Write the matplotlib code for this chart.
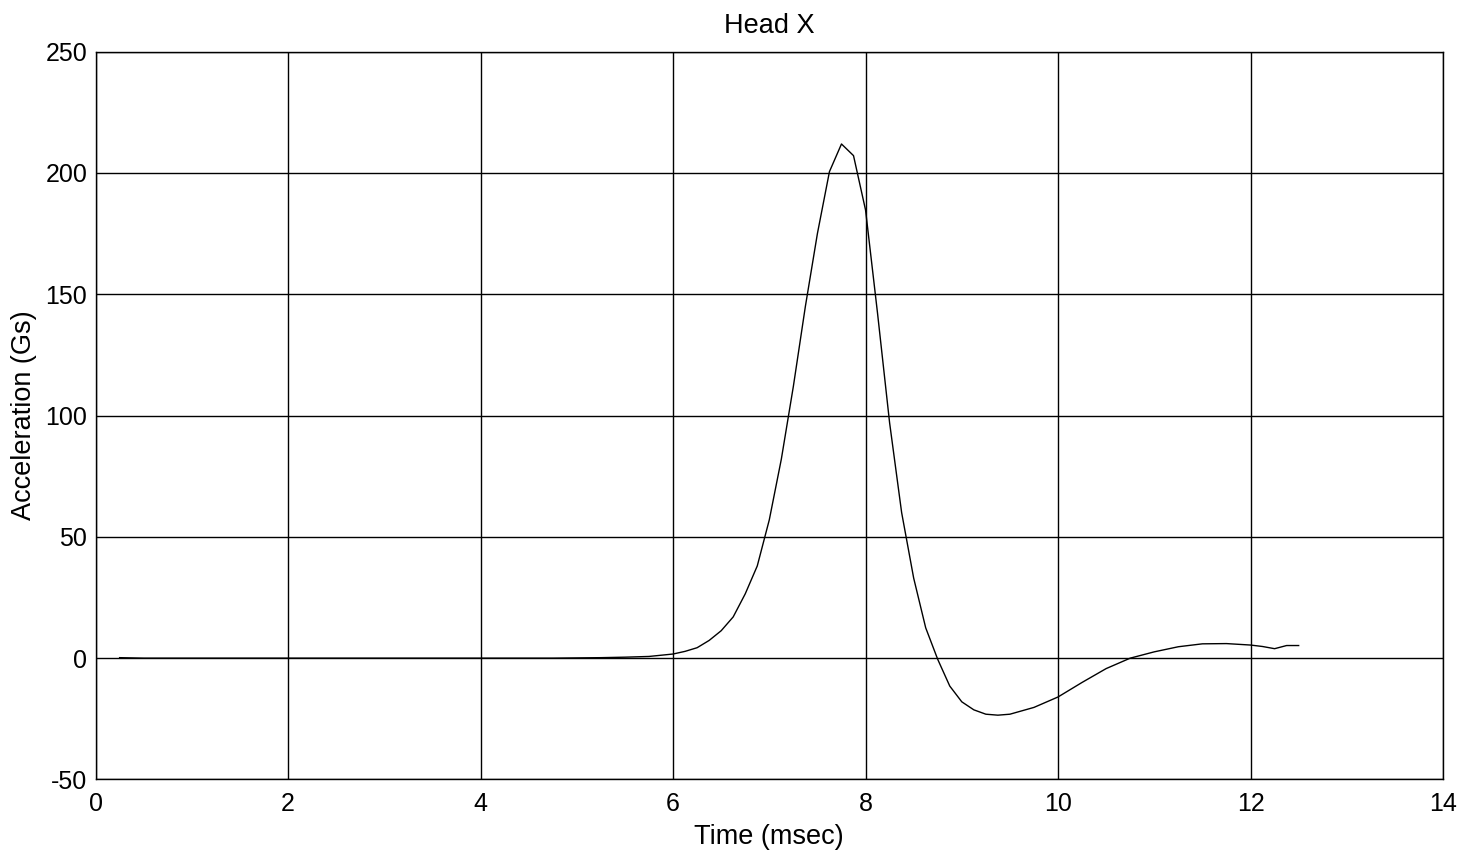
import matplotlib.pyplot as plt

# Head X acceleration trace
time_ms = [0.25, 0.5, 1.0, 2.0, 3.0, 4.0, 4.75, 5.25, 5.5, 5.75, 6.0, 6.125,
           6.25, 6.375, 6.5, 6.625, 6.75, 6.875, 7.0, 7.125, 7.25, 7.375,
           7.5, 7.625, 7.75, 7.875, 8.0, 8.125, 8.25, 8.375, 8.5, 8.625,
           8.75, 8.875, 9.0, 9.125, 9.25, 9.375, 9.5, 9.75, 10.0, 10.25,
           10.5, 10.75, 11.0, 11.25, 11.5, 11.75, 12.0, 12.125, 12.25,
           12.375, 12.5]
accel_g = [0.2, 0.0, 0.0, 0.0, 0.0, 0.0, 0.0, 0.2, 0.4, 0.7, 1.7, 2.8,
           4.3, 7.3, 11.3, 17.0, 26.5, 38.0, 57.0, 82.0, 112.0, 145.0,
           175.0, 200.5, 211.9, 207.1, 184.7, 142.0, 97.0, 60.0, 33.0, 12.5,
           -0.5, -11.5, -18.0, -21.3, -23.1, -23.5, -23.1, -20.3, -16.0, -10.0,
           -4.3, 0.0, 2.6, 4.7, 5.9, 6.0, 5.4, 4.8, 3.9, 5.2, 5.2]

x_ticks = [0, 2, 4, 6, 8, 10, 12, 14]
y_ticks = [-50, 0, 50, 100, 150, 200, 250]

plt.rcParams["font.family"] = ["Liberation Sans", "DejaVu Sans"]
plt.rcParams["axes.unicode_minus"] = False

fig = plt.figure(figsize=(14.77, 8.56), dpi=100)
ax = fig.add_axes([0.0647, 0.0894, 0.9123, 0.8504])

ax.plot(time_ms, accel_g, color="black", linewidth=1.0)

ax.set_xlim(0, 14)
ax.set_ylim(-50, 250)
ax.set_xticks(x_ticks)
ax.set_yticks(y_ticks)
ax.grid(True, color="black", linewidth=1.0, linestyle="-")
ax.tick_params(direction="in", length=0, labelsize=18)
ax.tick_params(axis="x", pad=9)
ax.tick_params(axis="y", pad=6)
for s in ax.spines.values():
    s.set_linewidth(1.0)

ax.set_xlabel("Time (msec)", fontsize=19.5, labelpad=6)
ax.set_ylabel("Acceleration (Gs)", fontsize=19.5, labelpad=6)
ax.set_title("Head X", fontsize=19.5, pad=13.5)

fig.savefig("out.png", dpi=100)
